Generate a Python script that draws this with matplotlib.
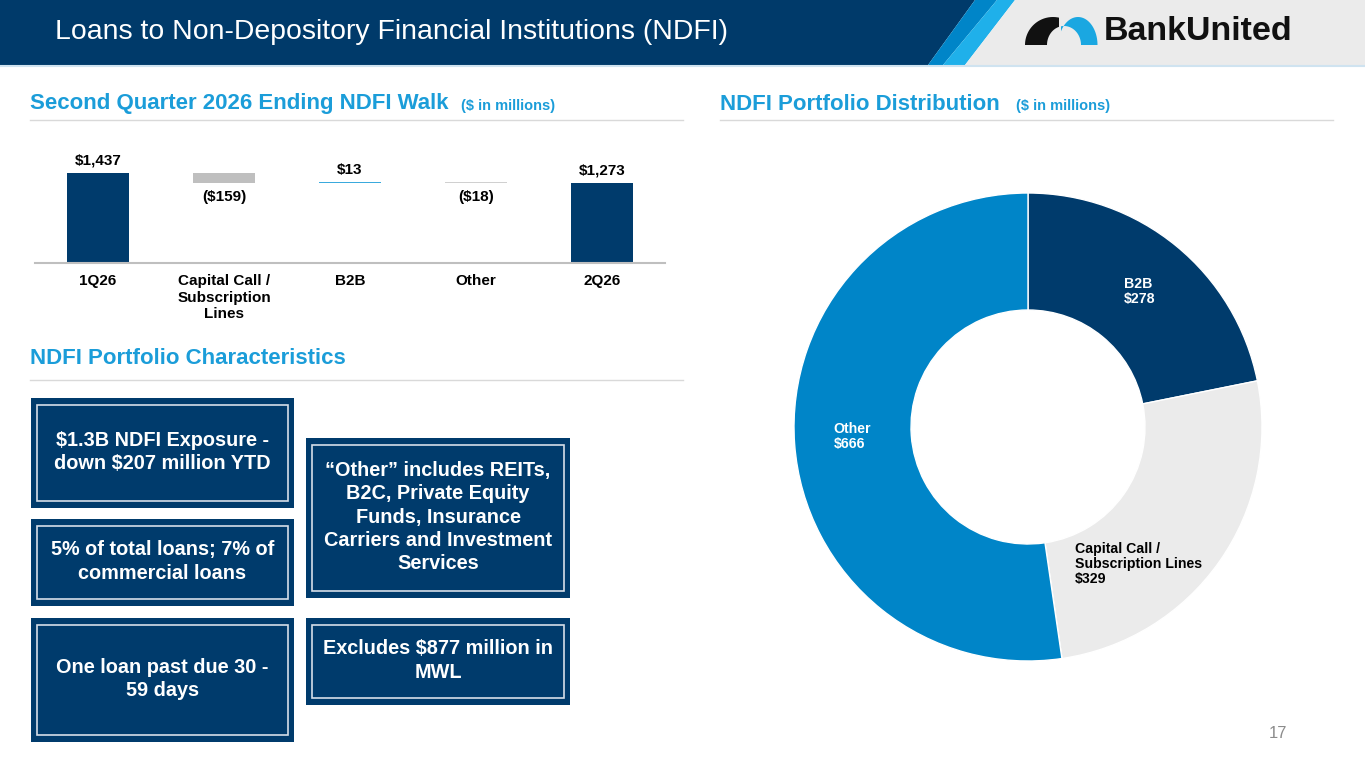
import numpy as np
import matplotlib
matplotlib.use("Agg")
import matplotlib.pyplot as plt
from matplotlib.patches import Rectangle, Polygon

plt.rcParams['font.family'] = ['Liberation Sans', 'DejaVu Sans']

# ---- data ----
walk_labels = ["1Q26", "Capital Call /\nSubscription\nLines", "B2B", "Other", "2Q26"]
walk_values = [1437, -159, 13, -18, 1273]
walk_text = ["$1,437", "($159)", "$13", "($18)", "$1,273"]
walk_is_total = [True, False, False, False, True]

dist_labels = ["B2B", "Capital Call /\nSubscription Lines", "Other"]
dist_values = [278, 329, 666]

box_texts = [
    "$1.3B NDFI Exposure -\ndown $207 million YTD",
    "5% of total loans; 7% of\ncommercial loans",
    "One loan past due 30 -\n59 days",
    "\u201cOther\u201d includes REITs,\nB2C, Private Equity\nFunds, Insurance\nCarriers and Investment\nServices",
    "Excludes $877 million in\nMWL",
]

NAVY = "#003B6C"
BLUE = "#0085C8"
LBLUE = "#1FB0EA"
HEAD = "#1B9DD9"

W, H = 1365, 768
fig = plt.figure(figsize=(W / 100, H / 100), dpi=100)


def fr(x0, y0, x1, y1):
    return [x0 / W, 1 - y1 / H, (x1 - x0) / W, (y1 - y0) / H]


# background / decoration layer in pixel coords
bg = fig.add_axes([0, 0, 1, 1])
bg.set_xlim(0, W)
bg.set_ylim(H, 0)
bg.axis("off")

bg.add_patch(Polygon([(0, 0), (975, 0), (928, 65), (0, 65)], color="#003A6A", lw=0))
bg.add_patch(Polygon([(975, 0), (997, 0), (943, 65), (928, 65)], color=BLUE, lw=0))
bg.add_patch(Polygon([(997, 0), (1015, 0), (965, 65), (943, 65)], color=LBLUE, lw=0))
bg.add_patch(Polygon([(1015, 0), (W, 0), (W, 65), (965, 65)], color="#EBEBEB", lw=0))
bg.plot([0, W], [66, 66], color="#CFE3F0", lw=1.5)
bg.text(55, 32, "Loans to Non-Depository Financial Institutions (NDFI)", color="white",
        fontsize=20.4, va="center", ha="left")


def arch(cx, hw, h, icx, ihw, ih, base):
    t = np.linspace(np.pi, 0, 50)
    outer = np.column_stack([cx + hw * np.cos(t), base - h * np.sin(t)])
    t2 = np.linspace(0, np.pi, 50)
    inner = np.column_stack([icx + ihw * np.cos(t2), base - ih * np.sin(t2)])
    return np.vstack([outer, inner])


black = Polygon(arch(1053, 28, 28, 1064, 17, 19, 45), color="#111111", lw=0)
bg.add_patch(black)
black.set_clip_path(Rectangle((1000, 0), 59, 60, transform=bg.transData))
blue = Polygon(arch(1078, 19.5, 28, 1064, 17, 19, 45), color="#1AA7E1", lw=0)
bg.add_patch(blue)
blue.set_clip_path(Rectangle((1061, 0), 60, 60, transform=bg.transData))
bg.text(1104, 32, "BankUnited", color="#111111", fontsize=24.5, fontweight="bold",
        va="center", ha="left")

# section headers
bg.text(30, 104, "Second Quarter 2026 Ending NDFI Walk", color=HEAD, fontsize=16,
        fontweight="bold", va="center")
bg.text(461, 106, "($ in millions)", color=HEAD, fontsize=10.5, fontweight="bold", va="center")
bg.text(720, 104, "NDFI Portfolio Distribution", color=HEAD, fontsize=16,
        fontweight="bold", va="center")
bg.text(1016, 106, "($ in millions)", color=HEAD, fontsize=10.5, fontweight="bold", va="center")
bg.text(30, 358, "NDFI Portfolio Characteristics", color=HEAD, fontsize=16,
        fontweight="bold", va="center")
bg.plot([30, 683], [120, 120], color="#D9D9D9", lw=1)
bg.plot([720, 1333], [120, 120], color="#D9D9D9", lw=1)
bg.plot([30, 683], [380, 380], color="#D9D9D9", lw=1)

# text boxes
box_rects = [(31, 398, 294, 508), (31, 519, 294, 606), (31, 618, 294, 742),
             (306, 438, 570, 598), (306, 618, 570, 705)]
for (x0, y0, x1, y1), txt in zip(box_rects, box_texts):
    bg.add_patch(Rectangle((x0, y0), x1 - x0, y1 - y0, color=NAVY, lw=0))
    bg.add_patch(Rectangle((x0 + 6, y0 + 7), x1 - x0 - 12, y1 - y0 - 14, fill=False,
                           edgecolor="#D5DEE8", lw=1.2))
    bg.text((x0 + x1) / 2, (y0 + y1) / 2 - 1, txt, color="white", fontsize=14.3,
            fontweight="bold", ha="center", va="center", linespacing=1.27)

bg.text(1278, 733, "17", color="#8C8C8C", fontsize=12, ha="center", va="center")

# ---- waterfall ----
ax = fig.add_axes(fr(35, 143, 665, 263))
x = np.arange(len(walk_values))
bottoms, heights, colors = [], [], []
running = 0
for v, tot in zip(walk_values, walk_is_total):
    if tot:
        bottoms.append(0)
        heights.append(v)
        colors.append(NAVY)
        running = v
    else:
        new = running + v
        bottoms.append(min(running, new))
        heights.append(abs(v))
        colors.append("#BFBFBF" if v < -50 else ("#3AAADD" if v > 0 else "#D0D0D0"))
        running = new
ax.bar(x, heights, bottom=bottoms, width=0.49, color=colors)
for xi, b, h, v, t in zip(x, bottoms, heights, walk_values, walk_text):
    if v >= 0:
        ax.annotate(t, (xi, b + h), xytext=(0, 4), textcoords="offset points",
                    ha="center", va="bottom", fontsize=11, fontweight="bold")
    else:
        ax.annotate(t, (xi, b), xytext=(0, -5), textcoords="offset points",
                    ha="center", va="top", fontsize=11, fontweight="bold")
ax.set_xlim(-0.5, 4.5)
ax.set_ylim(0, 1437 * 120 / 90)
ax.set_xticks(x)
ax.set_xticklabels(walk_labels, fontsize=11, fontweight="bold", linespacing=1.22)
ax.tick_params(axis="x", length=0, pad=8)
ax.set_yticks([])
for s in ["top", "right", "left"]:
    ax.spines[s].set_visible(False)
ax.spines["bottom"].set_color("#BFBFBF")
ax.spines["bottom"].set_linewidth(1.5)
ax.patch.set_alpha(0)

# ---- donut ----
R = 234
pax = fig.add_axes(fr(1028 - R, 427 - R, 1028 + R, 427 + R))
pax.pie(dist_values, colors=[NAVY, "#EBEBEB", BLUE], startangle=90, counterclock=False,
        radius=1, wedgeprops=dict(width=0.5, edgecolor="white", linewidth=1))
pax.set_xlim(-1, 1)
pax.set_ylim(-1, 1)
pax.set_aspect("equal")
label_pos = [(0.41, 0.64), (0.20, -0.49), (-0.83, 0.02)]
label_col = ["white", "black", "white"]
for (lx, ly), lab, v, c in zip(label_pos, dist_labels, dist_values, label_col):
    pax.text(lx, ly, f"{lab}\n${v}", color=c, fontsize=10.2, fontweight="bold",
             ha="left", va="top", linespacing=1.1)

fig.savefig("out.png", dpi=100)
